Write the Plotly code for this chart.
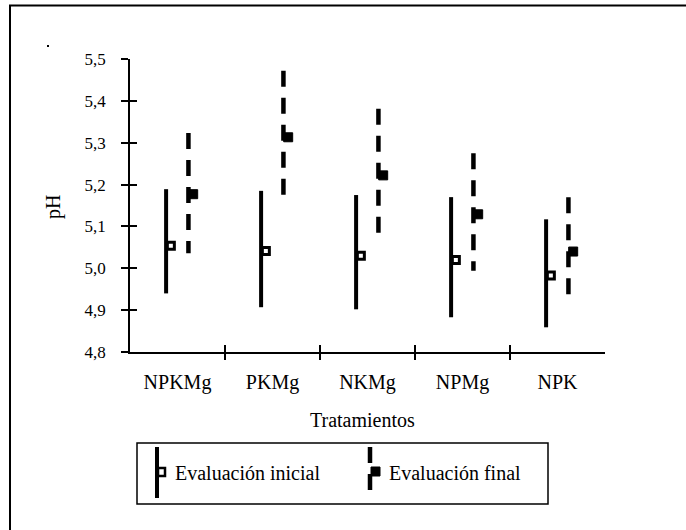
import plotly.graph_objects as go

# ---- data ----
categories = ["NPKMg", "PKMg", "NKMg", "NPMg", "NPK"]
initial_mean = [5.054, 5.041, 5.030, 5.020, 4.983]
initial_high = [5.189, 5.185, 5.175, 5.170, 5.117]
initial_low = [4.940, 4.907, 4.902, 4.883, 4.859]
final_mean = [5.177, 5.313, 5.222, 5.129, 5.040]
final_high = [5.323, 5.472, 5.381, 5.275, 5.170]
final_low = [5.036, 5.175, 5.084, 4.994, 4.934]
y_ticks = [4.8, 4.9, 5.0, 5.1, 5.2, 5.3, 5.4, 5.5]
y_ticktext = ["4,8", "4,9", "5,0", "5,1", "5,2", "5,3", "5,4", "5,5"]
series_names = ["Evaluación inicial", "Evaluación final"]

# ---- layout constants ----
W, H = 686, 530
L, R, T, B = 130, 605, 59, 352
FONT = "Liberation Serif, Times New Roman, serif"
OFF_I, OFF_F, MK = -0.12, 0.115, 0.05
DASH = "16px,11px"


def px(x):
    return (x - L) / (R - L)


def py(y):
    return (B - y) / (B - T)


idx = list(range(len(categories)))


def segs(offset, hi, lo):
    xs, ys = [], []
    for i in idx:
        xs += [i + offset, i + offset, None]
        ys += [hi[i], lo[i], None]
    return xs, ys


fig = go.Figure()
xi, yi = segs(OFF_I, initial_high, initial_low)
fig.add_trace(go.Scatter(x=xi, y=yi, mode="lines", line=dict(color="black", width=4),
                         showlegend=False, hoverinfo="skip"))
xf, yf = segs(OFF_F, final_high, final_low)
fig.add_trace(go.Scatter(x=xf, y=yf, mode="lines", line=dict(color="black", width=4.5, dash=DASH),
                         showlegend=False, hoverinfo="skip"))
fig.add_trace(go.Scatter(x=[i + OFF_I + MK for i in idx], y=initial_mean, mode="markers",
                         name=series_names[0], xaxis="x2", yaxis="y2",
                         marker=dict(symbol="square", size=7, color="white",
                                     line=dict(color="black", width=3)),
                         showlegend=False))
fig.add_trace(go.Scatter(x=[i + OFF_F + MK for i in idx], y=final_mean, mode="markers",
                         name=series_names[1], xaxis="x2", yaxis="y2",
                         marker=dict(symbol="square", size=9, color="black",
                                     line=dict(color="black", width=1)),
                         showlegend=False))

xr = [-0.5, len(categories) - 0.5]
yr = [4.8, 5.5]
fig.update_layout(
    width=W, height=H,
    margin=dict(l=L, r=W - R, t=T, b=H - B),
    paper_bgcolor="white", plot_bgcolor="white",
    showlegend=False,
    font=dict(family=FONT, color="black"),
    xaxis=dict(range=xr, tickvals=idx, ticktext=categories, ticks="",
               showline=True, linecolor="black", linewidth=1.5, showgrid=False,
               zeroline=False, tickfont=dict(family=FONT, size=20, color="black"),
               ticklabelstandoff=11),
    yaxis=dict(range=yr, tickvals=y_ticks, ticktext=y_ticktext, ticks="outside",
               ticklen=7, tickwidth=1.5, tickcolor="black",
               showline=True, linecolor="black", linewidth=1.5, showgrid=False,
               zeroline=False, tickfont=dict(family=FONT, size=17, color="black"),
               ticklabelstandoff=12),
    xaxis2=dict(range=xr, overlaying="x", anchor="y2", side="bottom",
                tickvals=[i + 0.5 for i in idx[:-1]], ticks="inside", ticklen=7,
                tickwidth=1.5, tickcolor="black", showticklabels=False,
                showline=False, showgrid=False, zeroline=False),
    yaxis2=dict(range=yr, overlaying="y", anchor="x2", side="left",
                tickvals=y_ticks, ticks="inside", ticklen=7, tickwidth=1.5,
                tickcolor="black", showticklabels=False, showline=False,
                showgrid=False, zeroline=False),
    xaxis3=dict(range=xr, overlaying="x", anchor="y", side="bottom",
                tickvals=[i + 0.5 for i in idx[:-1]], ticks="outside", ticklen=7,
                tickwidth=1.5, tickcolor="black", showticklabels=False,
                showline=False, showgrid=False, zeroline=False),
)
fig.add_trace(go.Scatter(x=[i for i in idx], y=initial_mean, xaxis="x3", yaxis="y",
                         mode="markers", marker=dict(opacity=0), showlegend=False,
                         hoverinfo="skip"))

TXT = dict(xref="paper", yref="paper", showarrow=False,
           font=dict(family=FONT, size=20, color="black"))

# axis titles
fig.add_annotation(text="pH", x=px(53), y=py(207), textangle=-90,
                   xanchor="center", yanchor="middle", **TXT)
fig.add_annotation(text="Tratamientos", x=px(362), y=py(420),
                   xanchor="center", yanchor="middle", **TXT)

# outer frame and stray dot
fig.add_shape(type="rect", xref="paper", yref="paper", x0=px(10), y0=py(5.5),
              x1=px(720), y1=py(560), line=dict(color="black", width=2))
fig.add_shape(type="rect", xref="paper", yref="paper", x0=px(47), y0=py(45),
              x1=px(49), y1=py(47), line=dict(width=0), fillcolor="black")

# legend (drawn manually)
fig.add_shape(type="rect", xref="paper", yref="paper", x0=px(137), y0=py(443),
              x1=px(548), y1=py(504), line=dict(color="black", width=1.5))
fig.add_shape(type="line", xref="paper", yref="paper", x0=px(157), x1=px(157),
              y0=py(447), y1=py(498), line=dict(color="black", width=4))
fig.add_shape(type="rect", xref="paper", yref="paper", x0=px(158), x1=px(165),
              y0=py(468), y1=py(476), line=dict(color="black", width=2.5), fillcolor="white")
fig.add_shape(type="line", xref="paper", yref="paper", x0=px(370), x1=px(370),
              y0=py(447), y1=py(498), line=dict(color="black", width=4.5, dash=DASH))
fig.add_shape(type="rect", xref="paper", yref="paper", x0=px(371), x1=px(380),
              y0=py(467), y1=py(476), line=dict(color="black", width=1), fillcolor="black")
fig.add_annotation(text=series_names[0], x=px(173), y=py(473),
                   xanchor="left", yanchor="middle", **TXT)
fig.add_annotation(text=series_names[1], x=px(387), y=py(473),
                   xanchor="left", yanchor="middle", **TXT)

fig.write_html("out.html")
